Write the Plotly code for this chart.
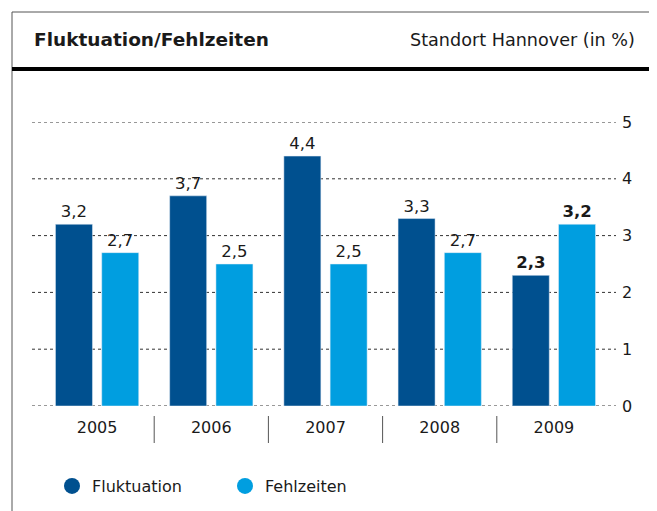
import plotly.graph_objects as go

years = ["2005", "2006", "2007", "2008", "2009"]
fluktuation = [3.2, 3.7, 4.4, 3.3, 2.3]
fehlzeiten = [2.7, 2.5, 2.5, 2.7, 3.2]
y_ticks = [0, 1, 2, 3, 4, 5]

DARK = "#00508F"
LIGHT = "#009EE0"
FONT = "DejaVu Sans"
TXT = "#1a1a1a"

OFF = 8  # page body margin offset
W, H = 657, 511
L, R, T, B = 40 - OFF, 611 - OFF, 122 - OFF, 406 - OFF  # plot area in pixels


def px(x):
    return (x - OFF - L) / (R - L)


def py(y):
    return (B - (y - OFF)) / (B - T)


def fmt(v, bold=False):
    s = f"{v:.1f}".replace(".", ",")
    return f"<b>{s}</b>" if bold else s


last = len(years) - 1
fig = go.Figure()
fig.add_trace(go.Bar(
    x=years, y=fluktuation, name="Fluktuation", marker_color=DARK,
    text=[fmt(v, i == last) for i, v in enumerate(fluktuation)],
    textposition="outside", textfont=dict(family=FONT, size=16.5, color=TXT),
    cliponaxis=False, showlegend=False,
))
fig.add_trace(go.Bar(
    x=years, y=fehlzeiten, name="Fehlzeiten", marker_color=LIGHT,
    text=[fmt(v, i == last) for i, v in enumerate(fehlzeiten)],
    textposition="outside", textfont=dict(family=FONT, size=16.5, color=TXT),
    cliponaxis=False, showlegend=False,
))
# legend entries as circles
for name, col in [("Fluktuation", DARK), ("Fehlzeiten", LIGHT)]:
    fig.add_trace(go.Scatter(x=[None], y=[None], mode="markers", name=name,
                             marker=dict(color=col, size=18, symbol="circle")))

shapes = []
# dotted gridlines
for t in y_ticks:
    shapes.append(dict(type="line", xref="paper", yref="y", x0=px(32), x1=px(616),
                       y0=t, y1=t, line=dict(color="#333333", width=1, dash="dot"),
                       layer="below"))
# category separators
for i in range(len(years) - 1):
    shapes.append(dict(type="line", xref="x", yref="paper", x0=i + 0.5, x1=i + 0.5,
                       y0=py(416), y1=py(443), line=dict(color="#555555", width=1)))
# frame
shapes.append(dict(type="rect", xref="paper", yref="paper", x0=px(12), x1=px(654),
                   y0=py(540), y1=py(12), line=dict(color="#555555", width=1)))
# thick header rule
shapes.append(dict(type="line", xref="paper", yref="paper", x0=px(12), x1=px(690),
                   y0=py(69), y1=py(69), line=dict(color="#000000", width=4)))

annotations = [
    dict(text="<b>Fluktuation/Fehlzeiten</b>", xref="paper", yref="paper",
         x=px(32), y=py(40), xanchor="left", yanchor="middle", showarrow=False,
         font=dict(family=FONT, size=18.5, color=TXT)),
    dict(text="Standort Hannover (in %)", xref="paper", yref="paper",
         x=px(637), y=py(40), xanchor="right", yanchor="middle", showarrow=False,
         font=dict(family=FONT, size=17.6, color=TXT)),
]

fig.update_layout(
    width=W, height=H,
    margin=dict(l=L, r=W - R, t=T, b=H - B, pad=0),
    paper_bgcolor="white", plot_bgcolor="white",
    barmode="group", bargap=0.19, bargroupgap=0.2,
    shapes=shapes, annotations=annotations,
    font=dict(family=FONT, size=16, color=TXT),
    legend=dict(orientation="h", x=px(52), y=py(486), xanchor="left", yanchor="middle",
                font=dict(family=FONT, size=16, color=TXT),
                entrywidth=128, entrywidthmode="pixels", itemsizing="trace",
                bgcolor="rgba(0,0,0,0)"),
    xaxis=dict(type="category", showgrid=False, zeroline=False, showline=False,
               ticks="", ticklabelstandoff=10, tickfont=dict(family=FONT, size=16, color=TXT)),
    yaxis=dict(range=[0, 5], side="right", tickvals=y_ticks, showgrid=False,
               zeroline=False, showline=False, ticks="", ticklabelstandoff=10,
               tickfont=dict(family=FONT, size=16, color=TXT)),
)

fig.write_html("out.html")
